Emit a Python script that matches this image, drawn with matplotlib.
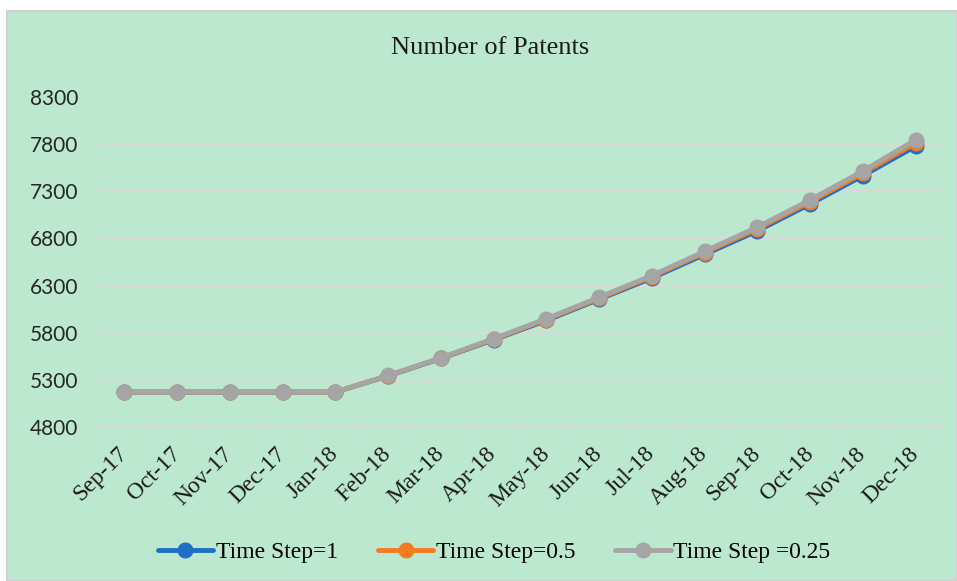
import matplotlib
matplotlib.use('Agg')
import matplotlib.pyplot as plt
from matplotlib.patches import Rectangle

# データ
months = ['Sep-17', 'Oct-17', 'Nov-17', 'Dec-17', 'Jan-18', 'Feb-18', 'Mar-18', 'Apr-18',
          'May-18', 'Jun-18', 'Jul-18', 'Aug-18', 'Sep-18', 'Oct-18', 'Nov-18', 'Dec-18']
step_1 = [5170, 5170, 5170, 5170, 5170, 5343, 5527, 5725, 5930, 6155, 6380, 6630, 6880, 7165, 7465, 7778]
step_05 = [5170, 5170, 5170, 5170, 5170, 5345, 5530, 5730, 5940, 6165, 6395, 6648, 6902, 7188, 7492, 7812]
step_025 = [5170, 5170, 5170, 5170, 5170, 5347, 5534, 5737, 5948, 6176, 6406, 6663, 6920, 7208, 7515, 7845]
labels = ['Time Step=1', 'Time Step=0.5', 'Time Step =0.25']
colors = ['#1f6fc6', '#f47c20', '#a5a5a5']
yticks = [4800, 5300, 5800, 6300, 6800, 7300, 7800, 8300]

bg = '#bce8cf'
grid_c = '#d9d9d9'

W, H = 957, 581
fig = plt.figure(figsize=(W / 100, H / 100), dpi=100)
fig.patch.set_facecolor('white')
# 緑の背景（チャート領域）
fig.add_artist(Rectangle((7 / W, 0), 1 - 7 / W, 1 - 11 / H, transform=fig.transFigure,
                         facecolor=bg, edgecolor='#d0d0d0', linewidth=1.5, zorder=-10))

ax = fig.add_axes([98 / W, (H - 427) / H, (942 - 98) / W, (427 - 97) / H])
ax.set_facecolor(bg)
ax.set_zorder(1)

x = list(range(len(months)))
for vals, lab, c in zip([step_1, step_05, step_025], labels, colors):
    ax.plot(x, vals, color=c, linewidth=3.5, marker='o', markersize=10.5,
            solid_capstyle='round', label=lab, clip_on=False)

ax.set_ylim(4800, 8300)
ax.set_xlim(-0.5, len(months) - 0.5)
ax.set_yticks(yticks)
ax.set_yticklabels([str(v) for v in yticks], family='Lato', fontsize=15, color='#262626')
ax.tick_params(axis='y', length=0, pad=14)
ax.yaxis.grid(True, color=grid_c, linewidth=1.5)
ax.set_axisbelow(True)

ax.set_xticks(x)
ax.set_xticklabels(months, rotation=45, ha='right', va='center', rotation_mode='anchor',
                   family='Liberation Serif', fontsize=17, color='#1a1a1a')
ax.tick_params(axis='x', which='major', length=0, pad=17)
ax.set_xticks([i - 0.5 for i in range(len(months) + 1)], minor=True)
ax.tick_params(axis='x', which='minor', length=6, width=1.5, color=grid_c)

for s in ['top', 'right', 'left']:
    ax.spines[s].set_visible(False)
ax.spines['bottom'].set_color(grid_c)
ax.spines['bottom'].set_linewidth(1.5)

fig.text(490 / W, 1 - 48 / H, 'Number of Patents', ha='center', va='center',
         family='Liberation Serif', fontsize=19, color='#1a1a1a')

fig.legend(loc='center', bbox_to_anchor=(494 / W, 1 - 552 / H), ncol=3, frameon=False,
           prop={'family': 'Liberation Serif', 'size': 17}, handlelength=2.35,
           handletextpad=0.1, columnspacing=1.7)

fig.savefig('out.png', dpi=100, facecolor='white')
